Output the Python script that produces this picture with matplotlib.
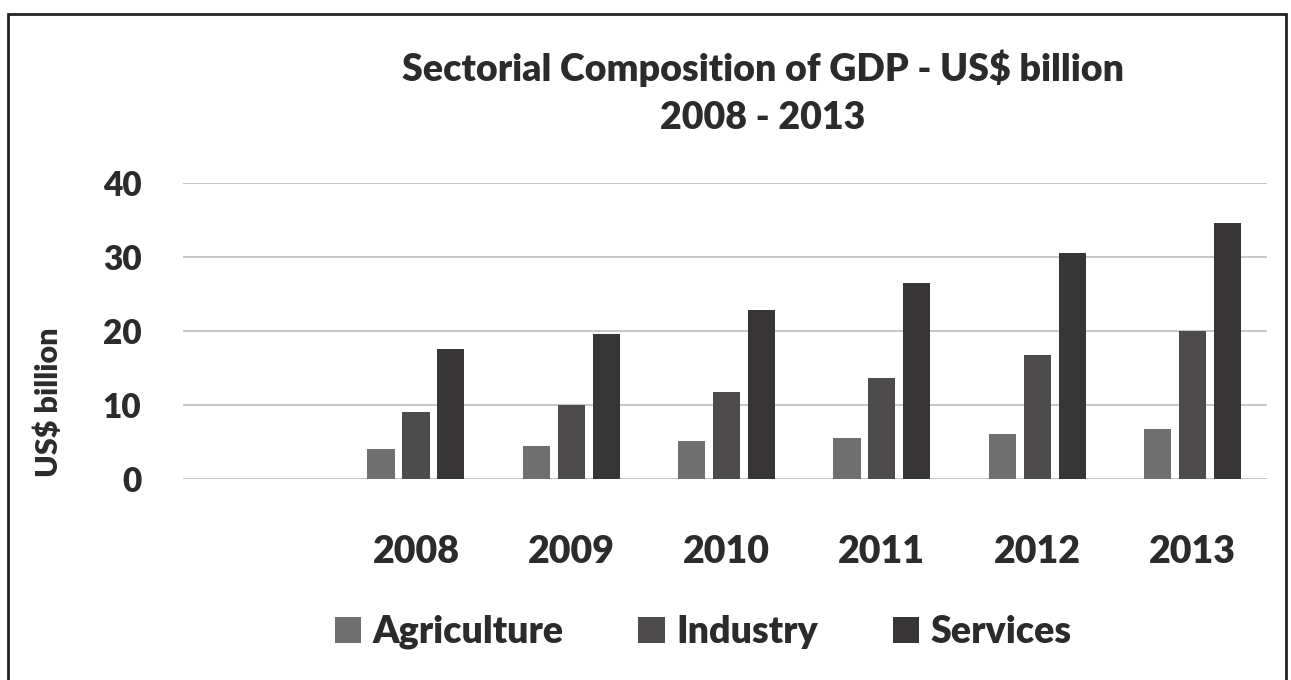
import numpy as np
import matplotlib.pyplot as plt
from matplotlib.patches import Rectangle

years = ["2008", "2009", "2010", "2011", "2012", "2013"]
agriculture = [4.1, 4.4, 5.2, 5.6, 6.1, 6.7]
industry = [9.1, 10.0, 11.7, 13.7, 16.8, 20.0]
services = [17.6, 19.6, 22.8, 26.5, 30.6, 34.6]

series = [("Agriculture", agriculture, "#6f6f6f"),
          ("Industry", industry, "#4d4b4b"),
          ("Services", services, "#373535")]

text_color = "#2b2b2b"
plt.rcParams['font.family'] = ['Lato', 'DejaVu Sans']

fig = plt.figure(figsize=(12.91, 6.80), dpi=100)
ax = fig.add_axes([183 / 1291, 1 - 479 / 680, 1084 / 1291, 296 / 680])

x = np.arange(len(years))
width = 0.175
step = 0.225
for i, (name, vals, color) in enumerate(series):
  ax.bar(x + (i - 1) * step, vals, width, color=color, label=name, zorder=3)

ax.set_ylim(0, 40)
ax.set_yticks([0, 10, 20, 30, 40])
ax.set_xlim(-1.5, 5.48)
ax.set_xticks(x)
ax.set_xticklabels(years)
ax.grid(axis='y', color="#bdbdbd", linewidth=1.2, zorder=0)
for s in ax.spines.values():
  s.set_visible(False)
ax.tick_params(axis='both', length=0, labelcolor=text_color)
ax.tick_params(axis='y', pad=30, labelsize=24)
ax.tick_params(axis='x', pad=40, labelsize=27)
for lbl in ax.get_xticklabels() + ax.get_yticklabels():
  lbl.set_fontweight('heavy')

fig.text(49 / 1291, 1 - 402 / 680, "US$ billion", rotation=90, ha='center', va='center',
         fontsize=22, fontweight='heavy', color=text_color)
fig.text(763 / 1291, 1 - 92 / 680, "Sectorial Composition of GDP - US$ billion\n2008 - 2013",
         ha='center', va='center', fontsize=27, fontweight='heavy', color=text_color,
         linespacing=1.5)

leg = fig.legend(loc='center', bbox_to_anchor=(703 / 1291, 1 - 632 / 680), ncol=3,
                 frameon=False, fontsize=27, handlelength=0.7, handleheight=0.7,
                 handletextpad=0.3, columnspacing=2.0)
for t in leg.get_texts():
  t.set_fontweight('heavy')
  t.set_color(text_color)

# frame around the chart (bottom edge is cut off in the scan)
fig.patches.append(Rectangle((8 / 1291, -0.05), 1278 / 1291, 1.05 - 14 / 680,
                             transform=fig.transFigure, fill=False, edgecolor="#222222",
                             linewidth=2))

fig.savefig("out.png", dpi=100)
